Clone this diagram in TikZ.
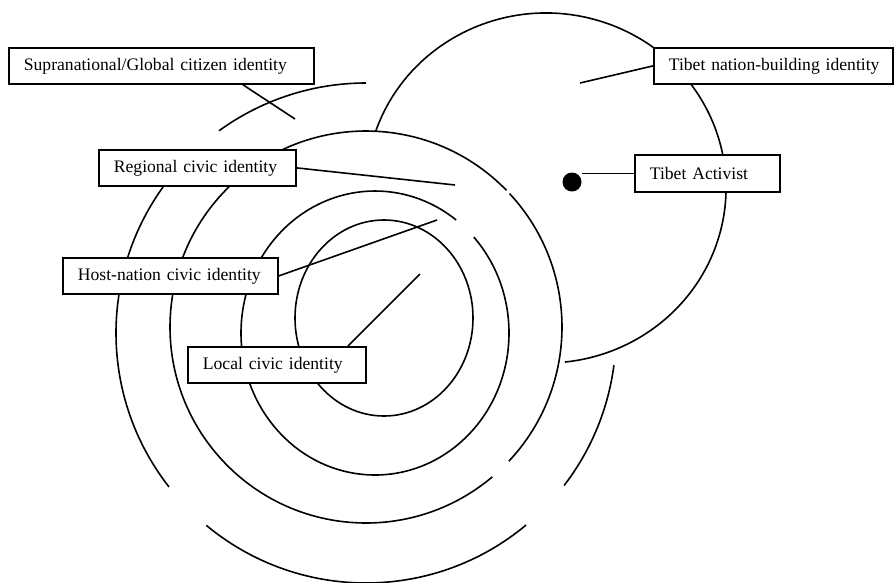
\documentclass[tikz,border=0pt]{standalone}
\usepackage{fontspec}
\setmainfont{Liberation Serif}
\usepackage{tikz}

\tikzset{
	ring/.style={line width=1.6pt},
	link/.style={line width=1.6pt},
	idbox/.style={draw, line width=1.8pt, fill=white, anchor=north west,
		inner xsep=15pt, inner ysep=0pt, minimum height=36pt, align=left,
		font=\fontsize{17.6}{20}\selectfont},
}

\begin{document}
\begin{tikzpicture}[x=1pt,y=-1pt]
\useasboundingbox (0,0) rectangle (894,582);

% local and host-nation rings
\draw[ring] (384,318) ellipse [x radius=89, y radius=98];
\draw[ring] ([shift={(-42.5:134 and 142)}]375,333)
	arc [start angle=-42.5, end angle=307.3, x radius=134, y radius=142];
% regional ring
\foreach \a/\b in {49.9/315.8, -42.9/43.2}{
	\draw[ring] ([shift={(\a:196)}]366,327) arc [start angle=\a, end angle=\b, radius=196];
}
% global ring
\foreach \a/\b in {-126/-90, 142/225, 50.2/129.7, 7.4/37.6}{
	\draw[ring] ([shift={(\a:250)}]366,333) arc [start angle=\a, end angle=\b, radius=250];
}
% tibet ring
\draw[ring] ([shift={(199:180 and 175)}]546,188)
	arc [start angle=199, end angle=444, x radius=180, y radius=175];

\node[idbox, text width=275pt] (supra) at (8,47) {Supranational/Global citizen identity};
\node[idbox, text width=167pt] (regional) at (98,149) {Regional civic identity};
\node[idbox, text width=185pt] (host) at (62,257) {Host-nation civic identity};
\node[idbox, text width=148pt] (local) at (187,346) {Local civic identity};
\node[idbox, text width=209pt] (nation) at (653,47) {\mbox{Tibet nation-building identity}};
\node[idbox, text width=115pt, minimum height=37pt] (activist) at (634,154) {Tibet Activist};
\node[circle, fill, inner sep=0pt, minimum size=19pt] (dot) at (572,182) {};

\coordinate (supraEnd) at (295,119);
\coordinate (regionalEnd) at (455,185);
\coordinate (hostEnd) at (437,220);
\coordinate (localEnd) at (420,274);
\coordinate (nationEnd) at (580,83);

\draw[link] ([xshift=235]supra.south west) -- (supraEnd);
\draw[link] (regional.east) -- (regionalEnd);
\draw[link] (host.east) -- (hostEnd);
\draw[link] ([xshift=161]local.north west) -- (localEnd);
\draw[link] (nation.west) -- (nationEnd);
\draw[link] (activist.west -| dot.east) -- (activist.west);
\end{tikzpicture}
\end{document}
